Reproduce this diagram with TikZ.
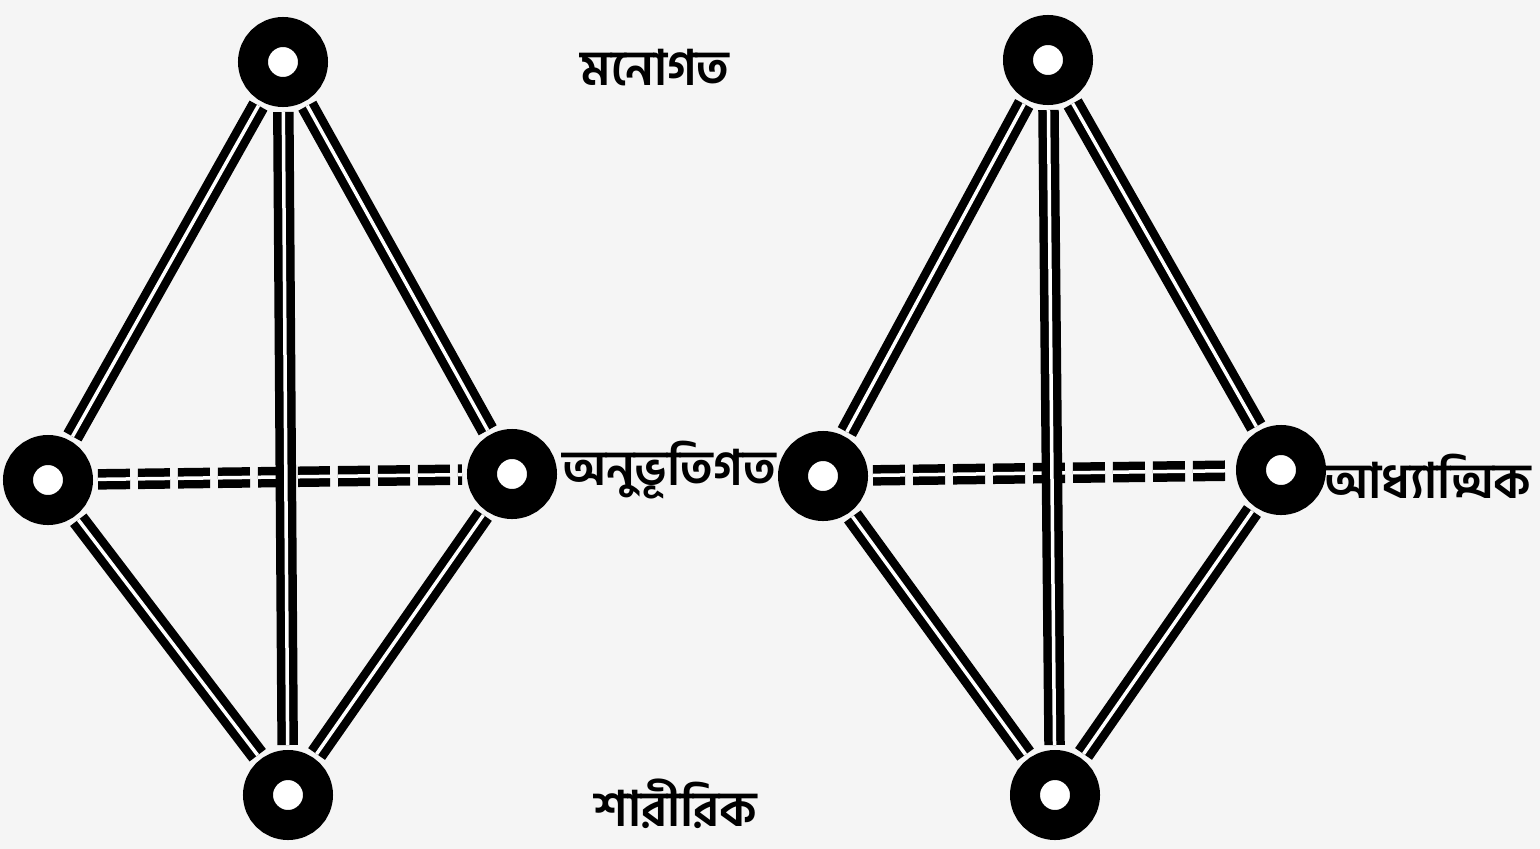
\documentclass[tikz,border=0pt]{standalone}
\usepackage{fontspec}
\newfontfamily\bn[Script=Bengali]{Hind Siliguri}
\begin{document}
\begin{tikzpicture}[x=1pt,y=-1pt,
  vtx/.style={circle,fill=white,draw=black,line width=30pt,minimum size=60pt,inner sep=0pt},
  rod/.style={draw=black,line width=8.5pt,double=white,double distance=3.5pt,shorten <=5pt,shorten >=5pt},
  dashrod/.style={rod,dash pattern=on 32pt off 8pt},
  lbl/.style={font=\bn\bfseries\fontsize{49}{56}\selectfont,inner sep=0pt,text=black}]
\fill[black!4] (0,0) rectangle (1540,849);
\useasboundingbox (0,0) rectangle (1540,849);
% left diagram
\node[vtx] (t1) at (283,62) {};
\node[vtx] (l1) at (48,480) {};
\node[vtx] (r1) at (512,474) {};
\node[vtx] (b1) at (288,795) {};
% right diagram
\node[vtx] (t2) at (1048,60) {};
\node[vtx] (l2) at (823,476) {};
\node[vtx] (r2) at (1281,470) {};
\node[vtx] (b2) at (1055,795) {};
\draw[dashrod] (l1) -- (r1);
\draw[rod] (t1) -- (b1);
\draw[rod] (t1) -- (l1);
\draw[rod] (t1) -- (r1);
\draw[rod] (l1) -- (b1);
\draw[rod] (r1) -- (b1);
\draw[dashrod] (l2) -- (r2);
\draw[rod] (t2) -- (b2);
\draw[rod] (t2) -- (l2);
\draw[rod] (t2) -- (r2);
\draw[rod] (l2) -- (b2);
\draw[rod] (r2) -- (b2);
% labels
\node[lbl] (m) at (655,68) {মনোগত};
\node[lbl] (a) at (669,470) {অনুভূতিগত};
\node[lbl] (s) at (1428,476) {আধ্যাত্মিক};
\node[lbl] (sh) at (676,804) {শারীরিক};
\end{tikzpicture}
\end{document}
